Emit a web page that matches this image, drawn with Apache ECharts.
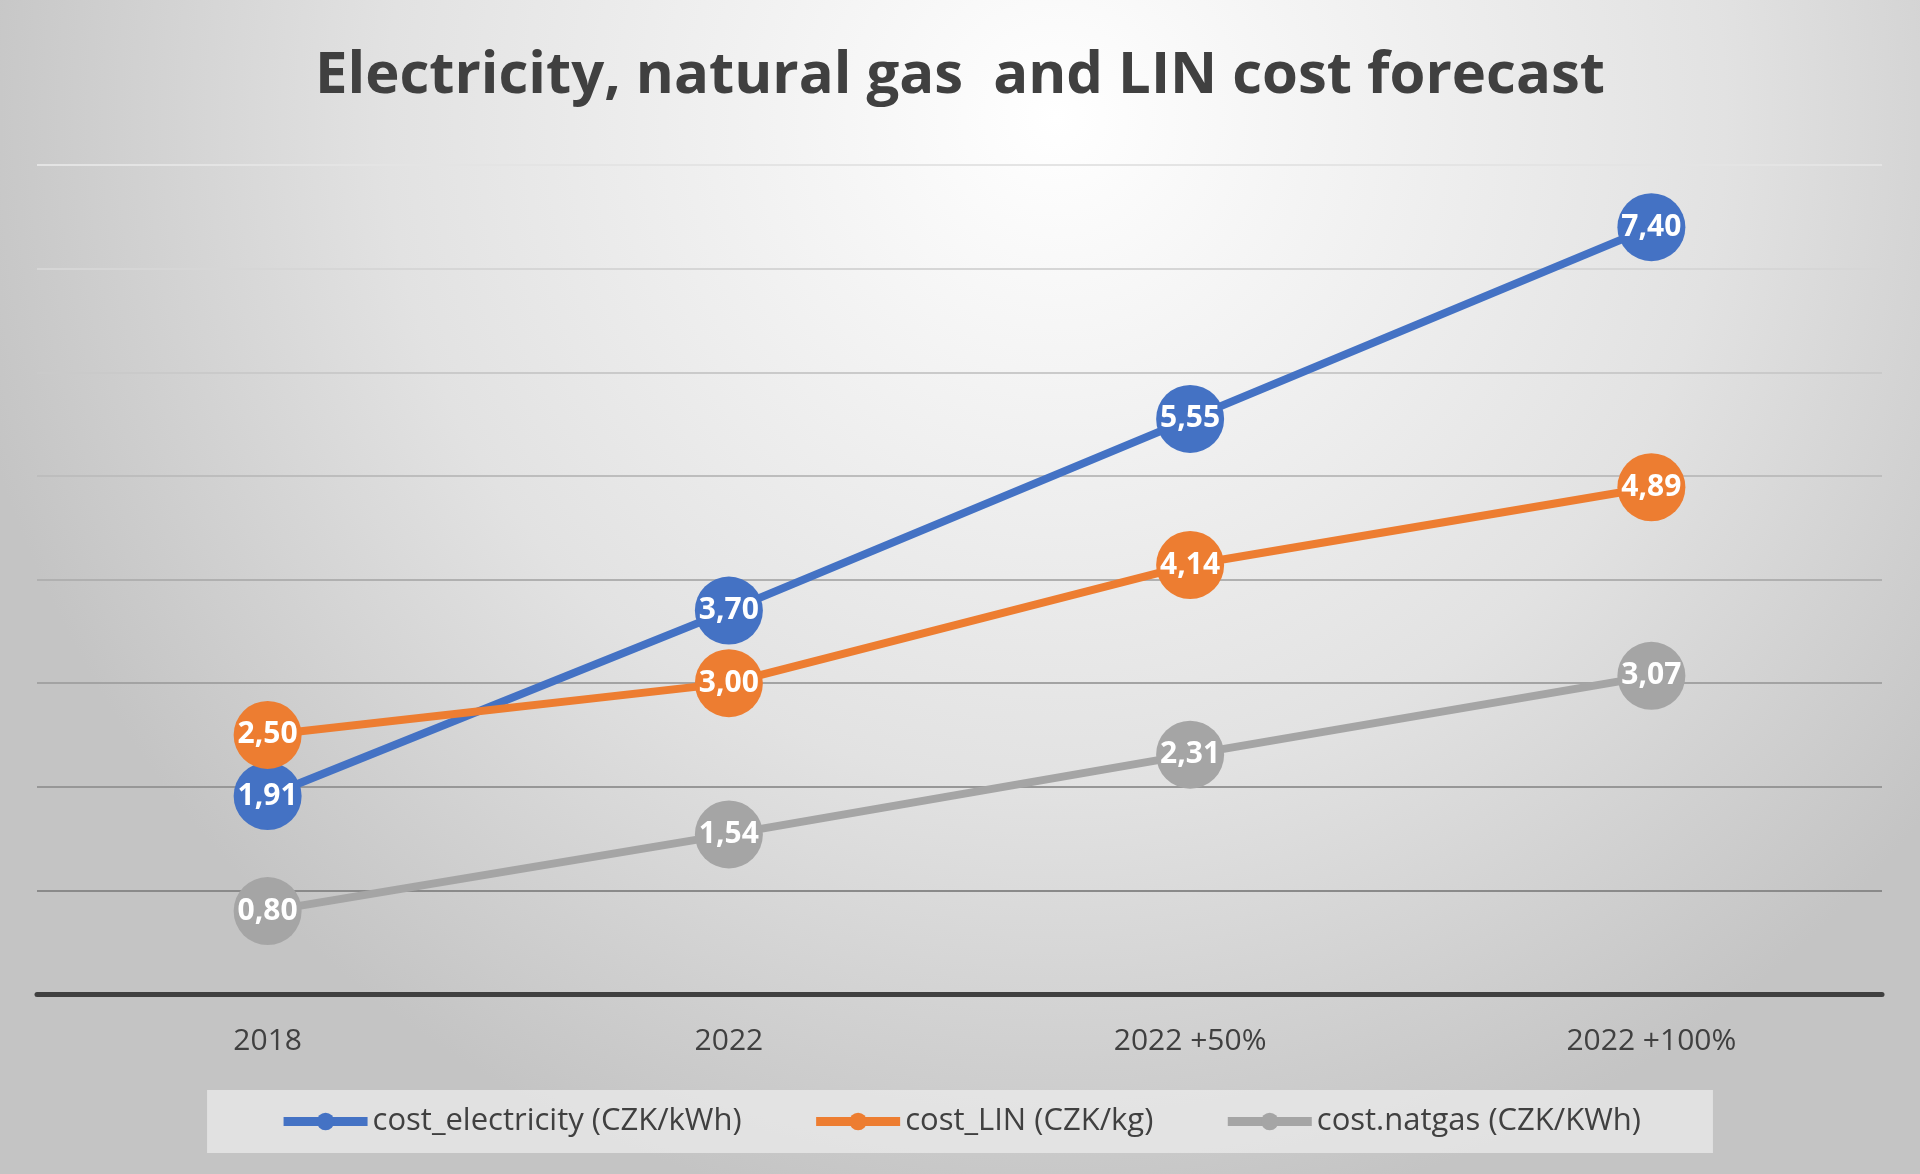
<!DOCTYPE html>
<html>
<head>
<meta charset="utf-8">
<script src="https://cdn.jsdelivr.net/npm/echarts@6/dist/echarts.min.js"></script>
<style>
  html, body { margin: 0; padding: 0; }
  #main { width: 1920px; height: 1174px; }
</style>
</head>
<body>
<div id="main"></div>
<script>
var categories = ['2018', '2022', '2022 +50%', '2022 +100%'];
var electricity = [1.91, 3.70, 5.55, 7.40];
var lin = [2.50, 3.00, 4.14, 4.89];
var natgas = [0.80, 1.54, 2.31, 3.07];

var chart = echarts.init(document.getElementById('main'));

function mkSeries(name, data, color) {
  return {
    name: name,
    type: 'line',
    data: data,
    symbol: 'circle',
    symbolSize: 68,
    itemStyle: { color: color },
    lineStyle: { color: color, width: 8 },
    label: {
      show: true,
      position: 'inside',
      color: '#fff',
      fontFamily: 'Open Sans',
      fontWeight: 'bold',
      fontSize: 30,
      formatter: function (p) { return p.value.toFixed(2).replace('.', ','); }
    }
  };
}

var option = {
  backgroundColor: {
    type: 'radial', x: 0.55, y: 0.1, r: 0.95,
    colorStops: [
      { offset: 0, color: '#ffffff' },
      { offset: 0.6, color: '#e2e2e2' },
      { offset: 1, color: '#c4c4c4' }
    ]
  },
  title: {
    text: 'Electricity, natural gas  and LIN cost forecast',
    left: 'center',
    top: 42,
    textStyle: { fontFamily: 'Open Sans', fontWeight: 'bold', fontSize: 58, color: '#404040' }
  },
  grid: { left: 37, right: 38, top: 165, bottom: 180 },
  xAxis: {
    type: 'category',
    data: categories,
    boundaryGap: true,
    axisLine: { lineStyle: { color: '#404040', width: 5 } },
    axisTick: { show: false },
    axisLabel: { color: '#404040', fontFamily: 'Open Sans', fontSize: 30, margin: 32 }
  },
  yAxis: {
    type: 'value',
    min: 0, max: 8, interval: 1,
    axisLabel: { show: false },
    axisLine: { show: false },
    axisTick: { show: false },
    splitLine: {
      lineStyle: {
        width: 2,
        color: ['#404040', '#8a8a8a', '#979797', '#a3a3a3', '#b0b0b0', '#bdbdbd', '#cacaca', '#d6d6d6', '#e4e4e4']
      }
    }
  },
  legend: {
    bottom: 21,
    left: 'center',
    itemWidth: 84,
    itemHeight: 22,
    itemGap: 70,
    padding: [16, 72, 16, 72],
    backgroundColor: 'rgba(235,235,235,0.75)',
    lineStyle: { width: 9 },
    textStyle: { color: '#404040', fontFamily: 'Open Sans', fontSize: 31 }
  },
  series: [
    mkSeries('cost_electricity (CZK/kWh)', electricity, '#4472C4'),
    mkSeries('cost_LIN (CZK/kg)', lin, '#ED7D31'),
    mkSeries('cost.natgas (CZK/KWh)', natgas, '#A5A5A5')
  ]
};
chart.setOption(option);
</script>
</body>
</html>
